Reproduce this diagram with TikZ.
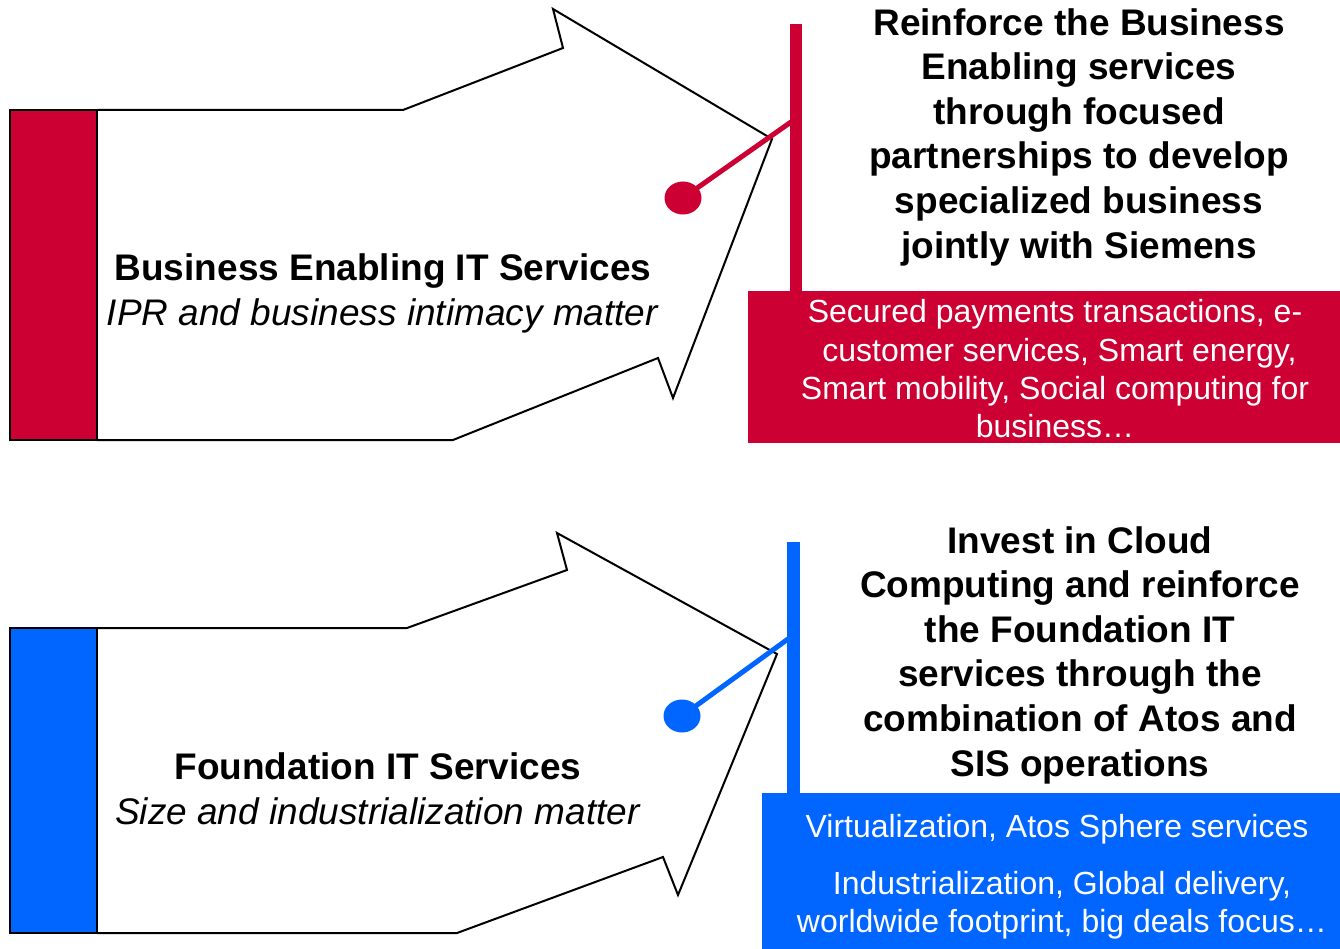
\documentclass[tikz,border=0pt]{standalone}
\usepackage{fontspec}
\setmainfont{Liberation Sans}
\usetikzlibrary{shapes.geometric}
\definecolor{brandred}{RGB}{204,0,51}
\definecolor{brandblue}{RGB}{0,102,255}
\begin{document}
\begin{tikzpicture}[x=1pt,y=-1pt,
  outline/.style={draw=black,line width=2pt,line join=miter,fill=white},
  sidebar/.style={draw=black,line width=2.7pt},
  headline/.style={align=center,font=\fontsize{37}{44.6}\selectfont\bfseries,inner sep=0pt},
  caption/.style={align=center,font=\fontsize{37}{45}\selectfont,inner sep=0pt},
  detail/.style={align=center,text=white,font=\fontsize{32}{38.3}\selectfont,inner sep=0pt},
  dot/.style={ellipse,inner sep=0pt,minimum width=37pt,minimum height=33pt},
  link/.style={line width=5pt},
]
\useasboundingbox (0,0) rectangle (1340,949);

% ---- Business enabling arrow ----
\draw[outline] (97,110) -- (403,110) -- (563,48) -- (553,9) -- (772,139)
  -- (673,398) -- (658,358) -- (453,440) -- (97,440);
\draw[sidebar,fill=brandred] (10,110) rectangle (97,440);
\node[caption] (bizlabel) at (383,293)
  {\textbf{Business Enabling IT Services}\\\textit{IPR and business intimacy matter}};

\fill[brandred] (790,24) rectangle (802,292);
\fill[brandred] (748,291) rectangle (1340,443);
\coordinate (bizjoin) at (791,122);
\node[dot,fill=brandred] (bizdot) at (683,198) {};
\draw[brandred,link] (bizdot.center) -- (bizjoin);
\node[headline] (bizgoal) at (1079,137)
  {Reinforce the Business\\Enabling services\\through focused\\partnerships to develop\\specialized business\\jointly with Siemens};
\node[detail] (bizdetail) at (1055,369)
  {Secured payments transactions, e-\\\ customer services, Smart energy,\\Smart mobility, Social computing for\\business…};

% ---- Foundation arrow ----
\draw[outline] (97,628) -- (407,628) -- (567,570) -- (557,533) -- (777,654)
  -- (678,895) -- (663,857) -- (457,933) -- (97,933);
\draw[sidebar,fill=brandblue] (10,628) rectangle (97,933);
\node[caption] (foundlabel) at (378,789)
  {\textbf{Foundation IT Services}\\\textit{Size and industrialization matter}};

\fill[brandblue] (787,542) rectangle (800,794);
\fill[brandblue] (762,793) rectangle (1340,949);
\coordinate (foundjoin) at (788,639);
\node[dot,fill=brandblue] (founddot) at (682,716) {};
\draw[brandblue,link] (founddot.center) -- (foundjoin);
\node[headline] (foundgoal) at (1080,655)
  {Invest in Cloud\\Computing and reinforce\\the Foundation IT\\services through the\\combination of Atos and\\SIS operations};
\node[detail] (founddetail1) at (1057,829) {Virtualization, Atos Sphere services};
\node[detail] (founddetail2) at (1062,905)
  {Industrialization, Global delivery,\\worldwide footprint, big deals focus…};
\end{tikzpicture}
\end{document}
